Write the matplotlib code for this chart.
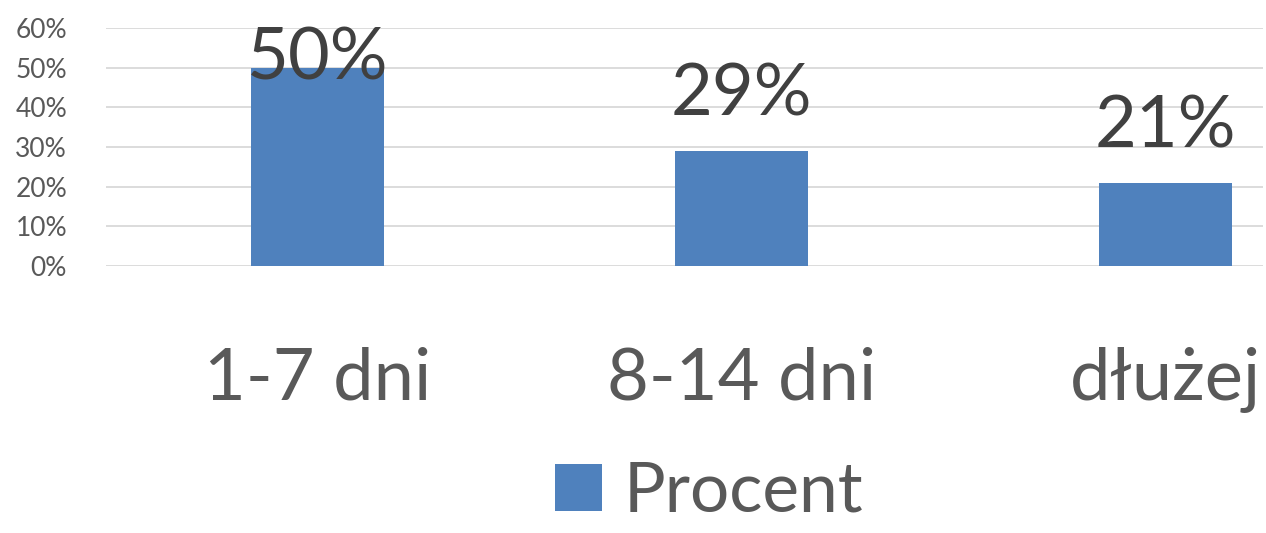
import matplotlib.pyplot as plt
from matplotlib.ticker import PercentFormatter

categories = ["1-7 dni", "8-14 dni", "dłużej"]
values = [0.50, 0.29, 0.21]
series_name = "Procent"

plt.rcParams['font.family'] = ['Lato', 'DejaVu Sans']

fig = plt.figure(figsize=(12.66, 5.33), dpi=100)
ax = fig.add_axes([0.0837, 0.5009, 0.9139, 0.4466])

bars = ax.bar(range(len(categories)), values, width=0.314, color='#4f81bd',
              label=series_name, zorder=3)

ax.set_ylim(0, 0.6)
ax.set_xlim(-0.5, 2.23)
ax.set_yticks([0, 0.1, 0.2, 0.3, 0.4, 0.5, 0.6])
ax.yaxis.set_major_formatter(PercentFormatter(1.0, decimals=0))
ax.set_xticks(range(len(categories)))
ax.set_xticklabels(categories)

ax.grid(axis='y', color='#d9d9d9', linewidth=1.3, zorder=0)
for s in ax.spines.values():
    s.set_visible(False)
ax.tick_params(axis='y', length=0, labelsize=19, labelcolor='#595959', pad=28)
ax.tick_params(axis='x', length=0, labelsize=52, labelcolor='#595959', pad=58)

# labels above bars, clamped at the top like Excel does
for i, v in enumerate(values):
    ax.text(i, min(v + 0.09, 0.47), f"{v:.0%}", ha='center', va='baseline',
            fontsize=52, color='#404040', zorder=4)

fig.legend(loc='lower center', bbox_to_anchor=(0.56, -0.1), frameon=False,
           fontsize=50, labelcolor='#595959', handlelength=0.68,
           handleheight=0.65, handletextpad=0.3)

fig.savefig("out.png")
